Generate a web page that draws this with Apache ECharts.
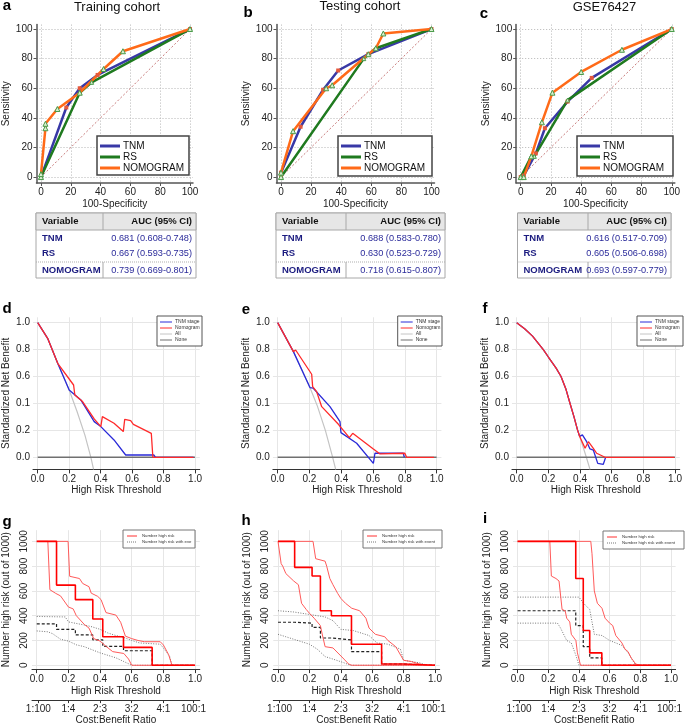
<!DOCTYPE html>
<html>
<head>
<meta charset="utf-8">
<script src="https://cdn.jsdelivr.net/npm/echarts@6/dist/echarts.min.js"></script>
<style>
  html, body { margin: 0; padding: 0; background: #fff; }
  #main { width: 685px; height: 726px; }
</style>
</head>
<body>
<div id="main"></div>
<script>
// ---- ROC curves: [100-Specificity, Sensitivity] ----
var tnmA  = [[0,0],[17,47],[26,60],[38,69],[100,100]];
var rsA   = [[0,0],[26,57],[34,64],[100,100]];
var nomoA = [[0,0],[0,2],[3,33],[3,36],[11,46],[26,57],[42,73],[55,85],[100,100]];

var tnmB  = [[0,0],[0,3],[13,34],[28,59],[38,72],[58,83],[100,100]];
var rsB   = [[0,0],[55,80],[63,87],[100,100]];
var nomoB = [[0,0],[0,3],[8,31],[30,60],[34,62],[58,83],[63,87],[68,97],[100,100]];

var tnmC  = [[0,0],[2,1],[10,16],[16,33],[31,51],[47,67],[100,100]];
var rsC   = [[0,0],[7,14],[9,14],[31,52],[100,100]];
var nomoC = [[0,0],[2,0],[7,14],[14,37],[21,57],[40,71],[67,86],[100,100]];

var diagLine = [[0,0],[100,100]];
var rocTicks = [0, 20, 40, 60, 80, 100];
var rocNames = ['TNM', 'RS', 'NOMOGRAM'];

// AUC tables [auc, low, high]
var aucA = [[0.681,0.608,0.748],[0.667,0.593,0.735],[0.739,0.669,0.801]];
var aucB = [[0.688,0.583,0.780],[0.630,0.523,0.729],[0.718,0.615,0.807]];
var aucC = [[0.616,0.517,0.709],[0.605,0.506,0.698],[0.693,0.597,0.779]];

// ---- decision curves: [threshold, standardized net benefit] ----
var allD  = [[0,1],[0.063,0.884],[0.127,0.698],[0.2,0.5],[0.25,0.34],[0.3,0.165],[0.338,0],[0.355,-0.09]];
var tnmD  = [[0,1],[0.063,0.884],[0.127,0.698],[0.2,0.5],[0.274,0.426],[0.359,0.265],[0.401,0.228],[0.485,0.129],[0.559,0.017],[0.738,0.017],[0.749,0],[0.99,0]];
var nomoD = [[0,1],[0.063,0.884],[0.127,0.698],[0.228,0.537],[0.236,0.463],[0.285,0.414],[0.359,0.285],[0.401,0.228],[0.411,0.302],[0.485,0.253],[0.544,0.191],[0.553,0.282],[0.591,0.272],[0.608,0.245],[0.722,0.178],[0.732,0],[0.99,0]];

var allE  = [[0,1],[0.099,0.785],[0.203,0.518],[0.25,0.38],[0.3,0.2],[0.346,0],[0.365,-0.09]];
var tnmE  = [[0,1],[0.099,0.785],[0.203,0.518],[0.224,0.513],[0.329,0.376],[0.392,0.265],[0.398,0.183],[0.497,0.104],[0.602,-0.045],[0.612,0.03],[0.79,0.03],[0.797,0]];
var nomoE = [[0,1],[0.099,0.785],[0.113,0.797],[0.214,0.617],[0.22,0.525],[0.245,0.488],[0.277,0.376],[0.382,0.245],[0.451,0.146],[0.472,0.178],[0.602,0.062],[0.644,0.025],[0.655,0.03],[0.8,0.03],[0.811,0],[0.983,0]];

var allF  = [[0,1],[0.05,0.955],[0.1,0.9],[0.168,0.8],[0.2,0.745],[0.25,0.66],[0.28,0.6],[0.31,0.51],[0.337,0.4],[0.362,0.3],[0.385,0.2],[0.398,0.155],[0.44,0],[0.463,-0.09]];
var tnmF  = [[0,1],[0.05,0.955],[0.1,0.9],[0.168,0.8],[0.2,0.745],[0.25,0.66],[0.28,0.6],[0.31,0.51],[0.337,0.4],[0.362,0.3],[0.385,0.2],[0.398,0.155],[0.415,0.166],[0.442,0.116],[0.463,0.062],[0.484,0.054],[0.512,-0.045],[0.547,-0.052],[0.562,0]];
var nomoF = [[0,1],[0.05,0.955],[0.1,0.9],[0.168,0.8],[0.2,0.745],[0.25,0.66],[0.28,0.6],[0.31,0.51],[0.337,0.4],[0.362,0.3],[0.385,0.2],[0.398,0.155],[0.432,0.067],[0.453,0.116],[0.484,0.067],[0.505,0.03],[0.558,0],[0.996,0]];

var noneLine = [[0,0],[1,0]];
var dcaTicks = [0, 0.2, 0.4, 0.6, 0.8, 1.0];
var dcaYLabels = ['0.0', '0.2', '0.1', '0.6', '0.8', '1.0'];
var dcaNames = ['TNM stage', 'Nomogram', 'All', 'None'];

// ---- clinical impact curves: [threshold, number out of 1000] ----
var riskG   = [[0,1000],[0.125,647],[0.244,530],[0.354,373],[0.417,230],[0.548,144],[0.729,0],[1,0]];
var riskHiG = [[0,1000],[0.198,1000],[0.208,718],[0.27,700],[0.29,660],[0.33,634],[0.344,582],[0.385,556],[0.406,530],[0.4375,425],[0.5,405],[0.53,347],[0.56,235],[0.6,215],[0.64,200],[0.68,190],[0.78,190],[0.8,164],[0.833,86],[0.854,0],[1,0]];
var riskLoG = [[0,1000],[0.07,1000],[0.083,610],[0.12,580],[0.15,560],[0.2,470],[0.23,455],[0.25,400],[0.3,330],[0.33,300],[0.36,215],[0.4,195],[0.44,150],[0.48,110],[0.55,95],[0.58,50],[0.6,0],[1,0]];
var eventG   = [[0,334],[0.125,290],[0.244,245],[0.354,205],[0.417,152],[0.548,117],[0.729,0],[1,0]];
var eventHiG = [[0,394],[0.18,390],[0.2,350],[0.3,325],[0.35,310],[0.4,290],[0.45,260],[0.5,240],[0.55,225],[0.6,200],[0.65,180],[0.78,170],[0.8,140],[0.84,70],[0.854,0],[1,0]];
var eventLoG = [[0,277],[0.07,270],[0.1,255],[0.15,210],[0.2,195],[0.25,165],[0.3,150],[0.35,125],[0.4,100],[0.45,80],[0.5,60],[0.55,30],[0.6,0],[1,0]];

var riskH   = [[0,1000],[0.106,790],[0.217,720],[0.27,440],[0.34,400],[0.468,170],[0.66,10],[0.8,0],[1,0]];
var riskHiH = [[0,1000],[0.223,1000],[0.24,860],[0.3,840],[0.31,800],[0.33,700],[0.35,650],[0.38,580],[0.4,540],[0.43,500],[0.47,460],[0.52,440],[0.56,380],[0.58,300],[0.62,250],[0.68,230],[0.7,200],[0.75,150],[0.8,40],[0.85,30],[0.9,10],[0.95,0],[1,0]];
var riskLoH = [[0,1000],[0.02,820],[0.03,800],[0.05,740],[0.1,680],[0.13,650],[0.15,500],[0.18,450],[0.2,420],[0.23,380],[0.27,320],[0.28,260],[0.3,150],[0.35,140],[0.42,50],[0.45,10],[0.47,0],[1,0]];
var eventH   = [[0,347],[0.106,340],[0.217,305],[0.27,220],[0.34,205],[0.468,110],[0.66,10],[0.8,0],[1,0]];
var eventHiH = [[0,440],[0.1,430],[0.2,410],[0.3,390],[0.35,360],[0.4,290],[0.48,280],[0.58,240],[0.63,180],[0.7,170],[0.78,130],[0.8,40],[0.9,20],[0.95,0],[1,0]];
var eventLoH = [[0,250],[0.05,230],[0.15,190],[0.2,170],[0.25,130],[0.3,70],[0.35,50],[0.42,20],[0.46,0],[1,0]];

var riskI   = [[0,1000],[0.379,700],[0.428,280],[0.47,100],[0.549,0],[1,0]];
var riskHiI = [[0,1000],[0.477,1000],[0.485,900],[0.5,600],[0.52,500],[0.55,460],[0.57,380],[0.6,340],[0.62,320],[0.64,240],[0.68,180],[0.7,130],[0.72,110],[0.74,60],[0.77,10],[0.8,0],[1,0]];
var riskLoI = [[0,1000],[0.21,1000],[0.22,720],[0.25,700],[0.27,680],[0.29,450],[0.31,440],[0.32,380],[0.34,350],[0.35,250],[0.38,200],[0.39,100],[0.41,0],[1,0]];
var eventI   = [[0,440],[0.379,320],[0.428,150],[0.47,60],[0.549,0],[1,0]];
var eventHiI = [[0,550],[0.4,550],[0.43,500],[0.47,450],[0.5,250],[0.55,240],[0.6,200],[0.68,160],[0.72,100],[0.77,0],[1,0]];
var eventLoI = [[0,340],[0.26,340],[0.28,300],[0.32,200],[0.35,180],[0.38,80],[0.4,0],[1,0]];

var cicTicks = [0, 200, 400, 600, 800, 1000];
var costTicks = [0.01, 0.2, 0.4, 0.6, 0.8, 0.99];
var costLabels = ['1:100', '1:4', '2:3', '3:2', '4:1', '100:1'];

var FONT = '"Liberation Sans", Arial, sans-serif';

var grids = [], xAxes = [], yAxes = [], series = [], gfx = [];

function line(xi, yi, data, color, width, extra) {
  var s = {
    type: 'line', xAxisIndex: xi, yAxisIndex: yi, data: data,
    symbol: 'none', silent: true, animation: false,
    lineStyle: { color: color, width: width }
  };
  for (var k in extra) s[k] = extra[k];
  return s;
}

function pickLabel(ticks, labels) {
  return function (v) {
    var best = 0;
    for (var i = 1; i < ticks.length; i++) {
      if (Math.abs(ticks[i] - v) < Math.abs(ticks[best] - v)) best = i;
    }
    return labels[best];
  };
}

// ---- ROC panel ----
function rocPanel(left, width, tnm, rs, nomo) {
  var gi = grids.length, xi = xAxes.length;
  grids.push({ left: left, top: 24.6, width: width, height: 158.4 });
  xAxes.push({
    gridIndex: gi, type: 'value', min: -3, max: 102,
    axisLine: { show: true, onZero: false, lineStyle: { color: '#555', width: 1.5 } },
    axisTick: { show: true, length: 3, customValues: rocTicks, lineStyle: { color: '#555' } },
    axisLabel: { customValues: rocTicks, fontSize: 10, color: '#222', margin: 4 },
    splitLine: { show: true, lineStyle: { color: '#b5b5b5', type: [1, 2] } },
    name: '100-Specificity', nameLocation: 'middle', nameGap: 16,
    nameTextStyle: { fontSize: 10, color: '#222' }
  });
  yAxes.push({
    gridIndex: gi, type: 'value', min: -4, max: 103,
    axisLine: { show: true, onZero: false, lineStyle: { color: '#555', width: 1.5 } },
    axisTick: { show: true, length: 3, customValues: rocTicks, lineStyle: { color: '#555' } },
    axisLabel: { customValues: rocTicks, fontSize: 10, color: '#222', margin: 4 },
    splitLine: { show: true, lineStyle: { color: '#b5b5b5', type: [1, 2] } },
    name: 'Sensitivity', nameLocation: 'middle', nameRotate: 90, nameGap: 25,
    nameTextStyle: { fontSize: 10, color: '#222' }
  });
  series.push(line(xi, gi, diagLine, '#c87a7a', 1, { lineStyle: { color: '#c87a7a', width: 1, type: [2, 2] } }));
  series.push(line(xi, gi, tnm, '#3838a6', 2.5, { symbol: 'rect', symbolSize: 4, itemStyle: { color: '#e5583c' } }));
  series.push(line(xi, gi, rs, '#1f7a1f', 2.5, { symbol: 'triangle', symbolSize: 4, itemStyle: { color: '#d9efd0', borderColor: '#4a9a4a', borderWidth: 1 } }));
  series.push(line(xi, gi, nomo, '#ff6a18', 2.5, { symbol: 'triangle', symbolSize: 5, itemStyle: { color: '#d9efd0', borderColor: '#4a9a4a', borderWidth: 1 } }));
}

// ---- decision curve panel ----
function dcaPanel(left, width, all, tnm, nomo) {
  var gi = grids.length, xi = xAxes.length;
  grids.push({ left: left, top: 317.3, width: width, height: 152.1 });
  xAxes.push({
    gridIndex: gi, type: 'value', min: -0.03, max: 1.03,
    axisLine: { show: true, onZero: false, lineStyle: { color: '#333', width: 1 } },
    axisTick: { show: true, length: 4, customValues: dcaTicks, lineStyle: { color: '#333' } },
    axisLabel: { customValues: dcaTicks, fontSize: 10, color: '#222', margin: 5,
      formatter: function (v) { return v.toFixed(1); } },
    splitLine: { show: true, lineStyle: { color: '#e6e6e6', width: 1 } },
    name: 'High Risk Threshold', nameLocation: 'middle', nameGap: 16,
    nameTextStyle: { fontSize: 10, color: '#222' }
  });
  yAxes.push({
    gridIndex: gi, type: 'value', min: -0.09, max: 1.04,
    axisLine: { show: false, onZero: false },
    axisTick: { show: false, customValues: dcaTicks },
    axisLabel: { customValues: dcaTicks, fontSize: 10, color: '#222', margin: 3,
      formatter: pickLabel(dcaTicks, dcaYLabels) },
    splitLine: { show: true, lineStyle: { color: '#e6e6e6', width: 1 } },
    name: 'Standardized Net Benefit', nameLocation: 'middle', nameRotate: 90, nameGap: 22,
    nameTextStyle: { fontSize: 10, color: '#222' }
  });
  series.push(line(xi, gi, all, '#c4c4c4', 1.2));
  series.push(line(xi, gi, noneLine, '#707070', 1.5));
  series.push(line(xi, gi, tnm, '#2a2ad8', 1.3));
  series.push(line(xi, gi, nomo, '#ff2a2a', 1.3));
}

// ---- clinical impact panel ----
function cicPanel(left, width, risk, riskHi, riskLo, ev, evHi, evLo) {
  var gi = grids.length, xi = xAxes.length;
  grids.push({ left: left, top: 530.2, width: width, height: 143 });
  xAxes.push({
    gridIndex: gi, type: 'value', min: -0.03, max: 1.03,
    axisLine: { show: true, onZero: false, lineStyle: { color: '#333', width: 1 } },
    axisTick: { show: true, length: 4, customValues: dcaTicks, lineStyle: { color: '#333' } },
    axisLabel: { customValues: dcaTicks, fontSize: 10, color: '#222', margin: 5,
      formatter: function (v) { return v.toFixed(1); } },
    splitLine: { show: true, lineStyle: { color: '#e6e6e6', width: 1 } },
    name: 'High Risk Threshold', nameLocation: 'middle', nameGap: 17,
    nameTextStyle: { fontSize: 10, color: '#222' }
  });
  xAxes.push({
    gridIndex: gi, type: 'value', min: -0.03, max: 1.03, position: 'bottom', offset: 31,
    axisLine: { show: true, onZero: false, lineStyle: { color: '#333', width: 1 } },
    axisTick: { show: true, length: 3, customValues: costTicks, lineStyle: { color: '#333' } },
    axisLabel: { customValues: costTicks, fontSize: 10, color: '#222', margin: 4,
      formatter: pickLabel(costTicks, costLabels) },
    splitLine: { show: false },
    name: 'Cost:Benefit Ratio', nameLocation: 'middle', nameGap: 12,
    nameTextStyle: { fontSize: 10, color: '#222' }
  });
  yAxes.push({
    gridIndex: gi, type: 'value', min: -31, max: 1090,
    axisLine: { show: false, onZero: false },
    axisTick: { show: false, customValues: cicTicks },
    axisLabel: { customValues: cicTicks, fontSize: 10, color: '#222', margin: 3, rotate: 90,
      formatter: function (v) { return String(v); } },
    splitLine: { show: true, lineStyle: { color: '#e6e6e6', width: 1 } },
    name: 'Number high risk (out of 1000)', nameLocation: 'middle', nameRotate: 90, nameGap: 21,
    nameTextStyle: { fontSize: 10, color: '#222' }
  });
  series.push(line(xi, gi, evHi, '#777', 1, { lineStyle: { color: '#777', width: 1, type: [1, 1.5] } }));
  series.push(line(xi, gi, evLo, '#777', 1, { lineStyle: { color: '#777', width: 1, type: [1, 1.5] } }));
  series.push(line(xi, gi, ev, '#222', 1.2, { step: 'end', lineStyle: { color: '#222', width: 1.2, type: [3, 2] } }));
  series.push(line(xi, gi, riskHi, '#ff5a5a', 1));
  series.push(line(xi, gi, riskLo, '#ff5a5a', 1));
  series.push(line(xi, gi, risk, '#ff0000', 1.6, { step: 'end' }));
}

// ---- graphic helpers ----
function txt(x, y, s, font, color, align, valign, extra) {
  var st = { text: s, font: font, fill: color || '#111',
    align: align || 'left', textAlign: align || 'left',
    verticalAlign: valign || 'middle', textVerticalAlign: valign || 'middle' };
  for (var k in extra) st[k] = extra[k];
  gfx.push({ type: 'text', z: 101, silent: true, x: x, y: y, style: st });
}
function rect(x, y, w, h, fill, stroke, lw) {
  gfx.push({ type: 'rect', z: 100, silent: true, shape: { x: x, y: y, width: w, height: h },
    style: { fill: fill, stroke: stroke, lineWidth: lw || 1 } });
}
function seg(x1, y1, x2, y2, color, lw, dash) {
  gfx.push({ type: 'line', z: 101, silent: true, shape: { x1: x1, y1: y1, x2: x2, y2: y2 },
    style: { stroke: color, lineWidth: lw || 1, lineDash: dash || null } });
}

function rocLegend(x, y, w, h) {
  var cols = ['#3838a6', '#1f7a1f', '#ff6a18'];
  rect(x, y, w, h, '#fff', '#444', 1.5);
  for (var k = 0; k < 3; k++) {
    var yy = y + 10 + k * 11;
    seg(x + 3, yy, x + 23, yy, cols[k], 3);
    txt(x + 26, yy, rocNames[k], '10px ' + FONT, '#111');
  }
}
function dcaLegend(x, y, w) {
  var cols = ['#2a2ad8', '#ff2a2a', '#c4c4c4', '#707070'];
  rect(x, y, w, 30, '#fff', '#555', 1);
  for (var k = 0; k < 4; k++) {
    var yy = y + 6 + k * 6;
    seg(x + 3, yy, x + 15, yy, cols[k], 1);
    txt(x + 18, yy, dcaNames[k], '5px ' + FONT, '#333');
  }
}
function cicLegend(x, y, w) {
  rect(x, y, w, 18, '#fff', '#777', 1);
  seg(x + 4, y + 6, x + 14, y + 6, '#ff3030', 1);
  seg(x + 4, y + 12, x + 14, y + 12, '#777', 1, [1, 1]);
  txt(x + 19, y + 6, 'Number high risk', '4.3px ' + FONT, '#333');
  txt(x + 19, y + 12, 'Number high risk with event', '4.3px ' + FONT, '#333', 'left', 'middle',
    { width: w - 20, overflow: 'truncate', ellipsis: '' });
}
function aucTable(x0, xd, x1, vals) {
  var top = 213, hb = 230, sep = 262, bot = 278;
  rect(x0, top, x1 - x0, bot - top, '#fff', '#a8a8a8', 1);
  rect(x0, top, x1 - x0, hb - top, '#e6e6e6', '#a8a8a8', 1);
  seg(xd, top, xd, hb, '#a8a8a8', 1);
  seg(x0, sep, x1, sep, '#b0b0b0', 1, [1, 1]);
  seg(xd, sep, xd, bot, '#a8a8a8', 1);
  txt(x0 + 6, (top + hb) / 2, 'Variable', 'bold 9.5px ' + FONT, '#111');
  txt(x1 - 4, (top + hb) / 2, 'AUC (95% CI)', 'bold 9.5px ' + FONT, '#111', 'right');
  var ys = [238, 253, 270];
  for (var k = 0; k < 3; k++) {
    var v = vals[k];
    txt(x0 + 6, ys[k], rocNames[k], 'bold 9.5px ' + FONT, '#1c1c80');
    txt(x1 - 4, ys[k], v[0].toFixed(3) + ' (' + v[1].toFixed(3) + '-' + v[2].toFixed(3) + ')',
      '9.2px ' + FONT, '#2a2a9a', 'right');
  }
}

// ---- build panels ----
rocPanel(36.5, 156.5, tnmA, rsA, nomoA);
rocPanel(276.5, 158, tnmB, rsB, nomoB);
rocPanel(516.2, 158.6, tnmC, rsC, nomoC);

dcaPanel(31.95, 167.8, allD, tnmD, nomoD);
dcaPanel(272.9, 168.5, allE, tnmE, nomoE);
dcaPanel(511.95, 167.8, allF, tnmF, nomoF);

cicPanel(30.2, 169.6, riskG, riskHiG, riskLoG, eventG, eventHiG, eventLoG);
cicPanel(273.3, 166.4, riskH, riskHiH, riskLoH, eventH, eventHiH, eventLoH);
cicPanel(513, 166.7, riskI, riskHiI, riskLoI, eventI, eventHiI, eventLoI);

rocLegend(97, 136, 92, 39);
rocLegend(338, 136, 94, 40);
rocLegend(577, 136, 96, 40);

aucTable(36, 103, 196, aucA);
aucTable(276, 346, 445, aucB);
aucTable(517.5, 588, 671, aucC);

dcaLegend(157, 316, 45);
dcaLegend(397.7, 316, 44.3);
dcaLegend(637, 316, 46);

cicLegend(123, 530, 72);
cicLegend(363, 530, 79);
cicLegend(603, 531, 81);

// titles and panel letters
txt(117, 7, 'Training cohort', '13px ' + FONT, '#111', 'center');
txt(360, 6.5, 'Testing cohort', '13px ' + FONT, '#111', 'center');
txt(604.5, 7.5, 'GSE76427', '13px ' + FONT, '#111', 'center');
var letters = [['a', 7, 6], ['b', 248, 13], ['c', 484, 14], ['d', 7, 309], ['e', 246, 310],
  ['f', 485, 309], ['g', 7, 522], ['h', 246, 521], ['i', 485, 519]];
letters.forEach(function (l) {
  txt(l[1], l[2], l[0], 'bold 15px ' + FONT, '#000', 'center');
});

var chart = echarts.init(document.getElementById('main'), null, { renderer: 'canvas' });
chart.setOption({
  animation: false,
  backgroundColor: '#fff',
  textStyle: { fontFamily: FONT },
  grid: grids,
  xAxis: xAxes,
  yAxis: yAxes,
  series: series,
  graphic: { elements: gfx }
});
</script>
</body>
</html>
